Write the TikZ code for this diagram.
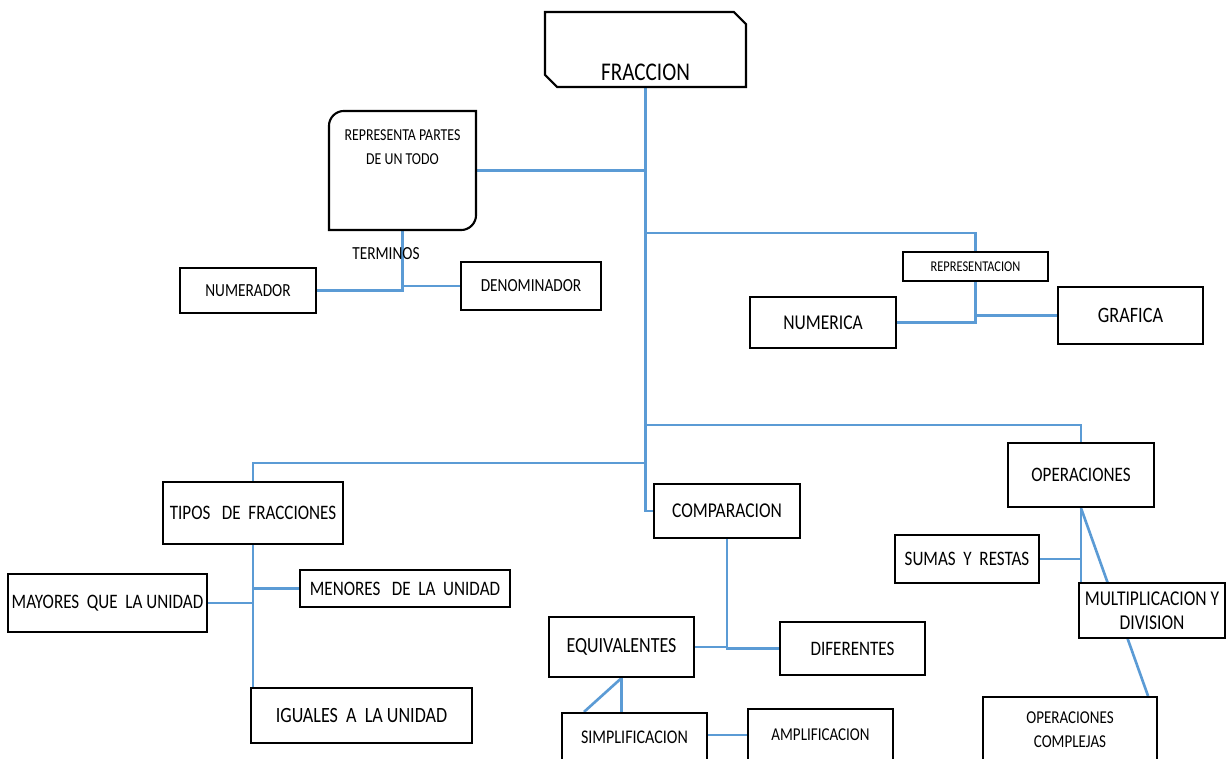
\documentclass[tikz,border=0pt]{standalone}
\usepackage{fontspec}
\setmainfont{Carlito}[FakeStretch=0.83]
\usetikzlibrary{shapes.misc,backgrounds}
\definecolor{azul}{RGB}{91,155,213}
\tikzset{
    %Define style for boxes
    caja/.style={
           rectangle,
           draw=black, line width=1.2pt,
           fill=white,
           inner sep=0pt,
           text centered},
    %Define font size
    tam/.style={font=\fontsize{#1}{13.5}\selectfont},
    % Define line style
    linea/.style={
           draw=azul,
           line width=1.5pt}
}

\begin{document}
\begin{tikzpicture}[x=0.02cm,y=-0.02cm]
\useasboundingbox (0,0) rectangle (1227,758);
\clip (0,0) rectangle (1227,758);

\node[caja,chamfered rectangle,chamfered rectangle corners={north east,south west},
  chamfered rectangle xsep=0.12cm,chamfered rectangle ysep=0.12cm,
  minimum width=4.02cm,text height=1.26cm,text depth=0pt,tam=14.5] (fraccion) at (645.5,49.5) {FRACCION};
\node[caja,draw=none,minimum width=2.9cm,minimum height=2.34cm,
  label={[anchor=north,yshift=-0.26cm,align=center,tam=9.5]north:REPRESENTA PARTES\\DE UN TODO}] (partes) at (402.5,170.5) {};
\draw[line width=1.2pt] (partes.west) [rounded corners=0.3cm] -- (partes.north west) -- (partes.north)
  [sharp corners] -- (partes.north east) -- (partes.east)
  [rounded corners=0.3cm] -- (partes.south east) -- (partes.south)
  [sharp corners] -- (partes.south west) -- cycle;
\node[tam=10.5] (terminos) at (386,253.5) {TERMINOS};
\node[caja,minimum width=2.72cm,minimum height=0.9cm,tam=10.5] (numerador) at (248,290.5) {NUMERADOR};
\node[caja,minimum width=2.8cm,minimum height=0.96cm,tam=10.5] (denominador) at (531,286) {DENOMINADOR};

\node[caja,minimum width=2.9cm,minimum height=0.58cm,tam=8.5] (representacion) at (975.5,266.5) {REPRESENTACION};
\node[caja,minimum width=2.92cm,minimum height=1.02cm,tam=12] (numerica) at (823,322.5) {NUMERICA};
\node[caja,minimum width=2.9cm,minimum height=1.14cm,tam=12.5] (grafica) at (1130.5,315.5) {GRAFICA};

\node[caja,minimum width=2.92cm,minimum height=1.28cm,tam=11.7] (operaciones) at (1081,475) {OPERACIONES};
\node[caja,minimum width=2.88cm,minimum height=0.96cm,tam=11.7] (sumas) at (967,559) {SUMAS \ Y \ RESTAS};
\node[caja,minimum width=2.92cm,minimum height=1.1cm,align=center,tam=12] (multi) at (1152,610.5) {MULTIPLICACION Y\\DIVISION};
\node[caja,minimum width=3.48cm,minimum height=1.3cm,align=center,tam=10.3] (complejas) at (1070,729.5) {OPERACIONES\\COMPLEJAS};

\node[caja,minimum width=2.92cm,minimum height=1.08cm,tam=12] (comparacion) at (727,511) {COMPARACION};
\node[caja,minimum width=2.9cm,minimum height=1.2cm,tam=12.3] (equiv) at (621.5,647) {EQUIVALENTES};
\node[caja,minimum width=2.9cm,minimum height=1.06cm,tam=11.7] (diferentes) at (852.5,648.5) {DIFERENTES};
\node[caja,minimum width=2.9cm,minimum height=0.96cm,tam=11] (simpl) at (634.5,737) {SIMPLIFICACION};
\node[caja,minimum width=2.9cm,minimum height=1.04cm,tam=10.3] (ampl) at (820.5,735) {AMPLIFICACION};

\node[caja,minimum width=3.6cm,minimum height=1.24cm,tam=11.7] (tipos) at (253,513) {TIPOS \ \ DE \ FRACCIONES};
\node[caja,minimum width=3.98cm,minimum height=1.16cm,tam=11.7] (mayores) at (107.5,603) {MAYORES \ QUE \ LA UNIDAD};
\node[caja,minimum width=4.2cm,minimum height=0.74cm,tam=11.7] (menores) at (405,588.5) {MENORES \ \ DE \ LA \ UNIDAD};
\node[caja,minimum width=4.42cm,minimum height=1.1cm,tam=12.4] (iguales) at (361.5,715.5) {IGUALES \ A \ LA UNIDAD};

\coordinate (b1) at (fraccion.south |- 0,233);
\coordinate (b2) at (fraccion.south |- 0,425);
\coordinate (b3) at (fraccion.south |- 0,463);
\coordinate (c1) at ([xshift=-0.2cm]complejas.north east);
\coordinate (c2) at ([xshift=0.46cm]simpl.north west);

\begin{scope}[on background layer]
\draw[linea] (fraccion.south) |- (comparacion.west);
\draw[linea] (partes.east) -- (partes.east -| fraccion.south);
\draw[linea] (b1) -| (representacion.north);
\draw[linea] (b2) -| (operaciones.north);
\draw[linea] (b3) -| (tipos.north);
\draw[linea] (partes.south) |- (numerador.east);
\draw[linea] (denominador.west) -| (partes.south);
\draw[linea] (representacion.south) |- (numerica.east);
\draw[linea] (grafica.west) -| (representacion.south);
\draw[linea] (operaciones.south) -- (operaciones.south |- multi.north);
\draw[linea] (sumas.east) -- (sumas.east -| operaciones.south);
\draw[linea] (operaciones.south) -- (c1);
\draw[linea] (comparacion.south) |- (equiv.east);
\draw[linea] (diferentes.west) -| (comparacion.south);
\draw[linea] (equiv.south) -- (equiv.south |- simpl.north);
\draw[linea] (equiv.south) -- (c2);
\draw[linea] (ampl.west) -- (ampl.west -| simpl.east);
\draw[linea] (tipos.south) -- (tipos.south |- iguales.north);
\draw[linea] (menores.west) -| (tipos.south);
\draw[linea] (mayores.east) -| (tipos.south);
\end{scope}
\end{tikzpicture}
\end{document}
